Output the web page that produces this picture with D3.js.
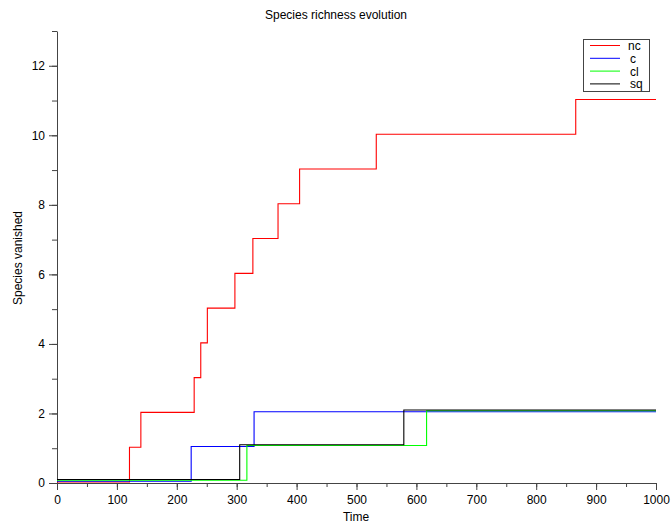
<!DOCTYPE html>
<html><head><meta charset="utf-8">
<script src="https://cdn.jsdelivr.net/npm/d3@7"></script>
<style>body{margin:0;background:#fff}svg{display:block}text{font-family:"Liberation Sans",Arial,sans-serif;}</style>
</head><body><svg id="c" width="671" height="527"></svg>
<script>
const seriesNames = ["nc","c","cl","sq"];
const seriesColors = ["#ff0000","#0000ff","#00ff00","#000000"];
const seriesOffsets = [0.03,0.05,0.08,0.1];
const ncTimes = [0,121,140,229,240,251,297,327,369,405,533,866,1000];
const ncValues = [0,1,2,3,4,5,6,7,8,9,10,11,11];
const cTimes = [0,224,329,1000];
const cValues = [0,1,2,2];
const clTimes = [0,317,617,1000];
const clValues = [0,1,2,2];
const sqTimes = [0,305,579,1000];
const sqValues = [0,1,2,2];
const xTicks = [0,100,200,300,400,500,600,700,800,900,1000];
const yTicks = [0,2,4,6,8,10,12];

const svg = d3.select("#c");
const x = d3.scaleLinear().domain([0,1000]).range([57,656]);
const y = d3.scaleLinear().domain([0,13]).range([483,31]);
const axisColor = "#444";

// x axis
const gx = svg.append("g").attr("transform","translate(0,483)");
gx.call(d3.axisBottom(x).tickValues(d3.range(0,1001,50)).tickFormat("").tickSize(4).tickSizeOuter(0));
gx.call(g=>{g.select(".domain").attr("stroke",axisColor);g.selectAll(".tick line").attr("stroke",axisColor);});
const gx2 = svg.append("g").attr("transform","translate(0,483)");
gx2.call(d3.axisBottom(x).tickValues(xTicks).tickFormat(d3.format("d")).tickSize(7).tickPadding(5).tickSizeOuter(0));
gx2.call(g=>{g.select(".domain").remove();g.selectAll(".tick line").attr("stroke",axisColor);g.selectAll("text").attr("font-size",12).attr("fill","#000").attr("font-family","Liberation Sans, Arial, sans-serif");});

// y axis
const gy = svg.append("g").attr("transform","translate(57,0)");
gy.call(d3.axisLeft(y).tickValues(d3.range(0,14,1)).tickFormat("").tickSize(5).tickSizeOuter(0));
gy.call(g=>{g.select(".domain").attr("stroke",axisColor);g.selectAll(".tick line").attr("stroke",axisColor);});
const gy2 = svg.append("g").attr("transform","translate(57,0)");
gy2.call(d3.axisLeft(y).tickValues(yTicks).tickFormat(d3.format("d")).tickSize(8).tickPadding(4).tickSizeOuter(0));
gy2.call(g=>{g.select(".domain").remove();g.selectAll(".tick line").attr("stroke",axisColor);g.selectAll("text").attr("font-size",12).attr("fill","#000").attr("font-family","Liberation Sans, Arial, sans-serif");});

// lines
const allTimes=[ncTimes,cTimes,clTimes,sqTimes];
const allValues=[ncValues,cValues,clValues,sqValues];
const line = d3.line().x(d=>x(d[0])).y(d=>y(d[1])).curve(d3.curveStepAfter);
[0,1,2,3].forEach(i=>{
  const pts = allTimes[i].map((t,j)=>[t, allValues[i][j]+seriesOffsets[i]]);
  svg.append("path").attr("d",line(pts)).attr("fill","none").attr("stroke",seriesColors[i]).attr("stroke-width",1.1);
});

// title & labels
svg.append("text").attr("x",336).attr("y",19).attr("text-anchor","middle").attr("font-size",12).text("Species richness evolution");
svg.append("text").attr("x",356).attr("y",521).attr("text-anchor","middle").attr("font-size",12).text("Time");
svg.append("text").attr("transform","translate(22,258) rotate(-90)").attr("text-anchor","middle").attr("font-size",12).text("Species vanished");

// legend
const lg = svg.append("g");
lg.append("rect").attr("x",583.5).attr("y",39.5).attr("width",66).attr("height",52).attr("fill","#fff").attr("stroke",axisColor);
seriesNames.forEach((n,i)=>{
  const yy = 45.5 + i*12.8;
  lg.append("line").attr("x1",590).attr("x2",620).attr("y1",yy).attr("y2",yy).attr("stroke",seriesColors[i]).attr("stroke-width",1);
  lg.append("text").attr("x",i===0?628:630).attr("y",yy+4.5).attr("font-size",12).text(n);
});
</script></body></html>
